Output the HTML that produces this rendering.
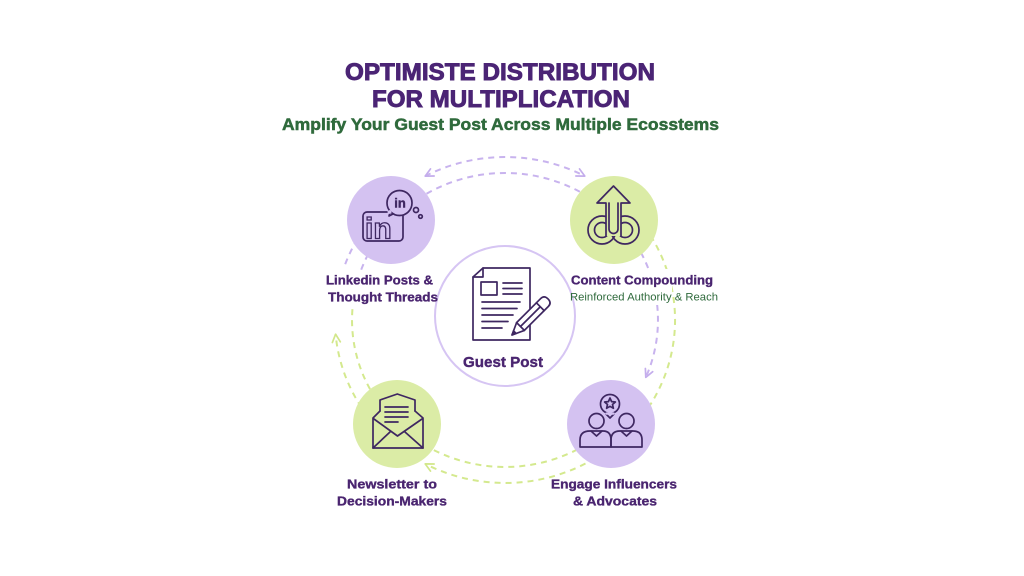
<!DOCTYPE html>
<html>
<head>
<meta charset="utf-8">
<style>
html,body{margin:0;padding:0;background:#fff;}
svg{display:block;}
text{font-family:"Liberation Sans",Arial,sans-serif;}
.lbl{font-weight:bold;font-size:13px;fill:#4a2570;stroke:#4a2570;stroke-width:0.35px;}
.ic{fill:none;stroke:#3e2761;stroke-width:1.7;stroke-linecap:round;stroke-linejoin:round;}
</style>
</head>
<body>
<svg width="1024" height="576" viewBox="0 0 1024 576" xmlns="http://www.w3.org/2000/svg">
<defs>
  <marker id="ap" viewBox="0 0 10 10" refX="9" refY="5" markerWidth="10" markerHeight="10" markerUnits="userSpaceOnUse" orient="auto-start-reverse">
    <path d="M1,1 L9,5 L1,9" fill="none" stroke="#c4adec" stroke-width="1.7" stroke-linecap="round" stroke-linejoin="round"/>
  </marker>
  <marker id="ag" viewBox="0 0 10 10" refX="9" refY="5" markerWidth="10" markerHeight="10" markerUnits="userSpaceOnUse" orient="auto-start-reverse">
    <path d="M1,1 L9,5 L1,9" fill="none" stroke="#d2e78a" stroke-width="1.7" stroke-linecap="round" stroke-linejoin="round"/>
  </marker>
</defs>
<rect width="1024" height="576" fill="#fff"/>

<!-- Title -->
<text x="500" y="80" text-anchor="middle" font-size="24" font-weight="bold" fill="#4b2475" stroke="#4b2475" stroke-width="0.9" textLength="310" lengthAdjust="spacingAndGlyphs">OPTIMISTE DISTRIBUTION</text>
<text x="501" y="107" text-anchor="middle" font-size="24" font-weight="bold" fill="#4b2475" stroke="#4b2475" stroke-width="0.9" textLength="258" lengthAdjust="spacingAndGlyphs">FOR MULTIPLICATION</text>
<text x="500.5" y="130" text-anchor="middle" font-size="16.5" font-weight="bold" fill="#2f6a3c" stroke="#2f6a3c" stroke-width="0.5" textLength="437" lengthAdjust="spacingAndGlyphs">Amplify Your Guest Post Across Multiple Ecosstems</text>

<!-- Dashed arcs -->
<g fill="none" stroke-width="2" stroke-dasharray="6 5">
  <!-- top -->
  <path d="M425.2,176.1 A170,163 0 0 1 584.8,176.1" stroke="#c8b3ee" marker-start="url(#ap)" marker-end="url(#ap)"/>
  <path d="M417.2,199.6 A153,147 0 0 1 592.8,199.6" stroke="#c8b3ee"/>
  <!-- right -->
  <path d="M622.2,225.5 A153,147 0 0 1 645.8,377.4" stroke="#c8b3ee" marker-end="url(#ap)"/>
  <path d="M644.3,226.5 A170,163 0 0 1 644.3,413.5" stroke="#d4e98e"/>
  <!-- bottom -->
  <path d="M595.1,458.2 A170,163 0 0 1 425.2,463.9" stroke="#d4e98e" marker-end="url(#ag)"/>
  <path d="M613.2,423.9 A153,147 0 0 1 396.8,423.9" stroke="#d4e98e"/>
  <!-- left -->
  <path d="M374.8,424.8 A170,163 0 0 1 335.6,334.2" stroke="#d4e98e" marker-end="url(#ag)"/>
  <path d="M396.8,423.9 A153,147 0 0 1 352.6,307.2" stroke="#d4e98e"/>
  <path d="M345.2,264.2 A170,163 0 0 1 365.7,226.5" stroke="#c8b3ee"/>
  <path d="M361.2,269.7 A153,147 0 0 1 379.7,235.7" stroke="#c8b3ee"/>
</g>
<!-- gap behind Content label -->
<rect x="636" y="269" width="36" height="36" fill="#fff"/>

<!-- Center circle -->
<circle cx="505" cy="316" r="70" fill="#fff" stroke="#d6c5f3" stroke-width="2"/>

<!-- Node circles -->
<circle cx="391" cy="220" r="44" fill="#d4c2f1"/>
<circle cx="614" cy="220" r="44" fill="#dbeca6"/>
<circle cx="397" cy="424" r="44" fill="#dbeca6"/>
<circle cx="611" cy="424" r="44" fill="#d4c2f1"/>

<!-- LinkedIn icon -->
<rect x="363" y="212" width="40" height="29" rx="4" class="ic"/>
<text x="365" y="238.5" font-size="30" font-weight="bold" fill="#d4c2f1" stroke="#3e2761" stroke-width="1.3">in</text>
<path d="M393,214 L389,216 L390,212" fill="#d4c2f1" stroke="#3e2761" stroke-width="1.6" stroke-linejoin="round"/>
<circle cx="399.5" cy="203" r="12.5" fill="#d4c2f1" stroke="#3e2761" stroke-width="1.7"/>
<path d="M388,213 L391,211" stroke="#d4c2f1" stroke-width="3"/>
<text x="400" y="207.5" text-anchor="middle" font-size="13" font-weight="bold" fill="#3e2761" stroke="#3e2761" stroke-width="0.4">in</text>
<circle cx="416" cy="210" r="2.5" class="ic" stroke-width="1.3"/>
<circle cx="420.5" cy="216.5" r="1.8" class="ic" stroke-width="1.2"/>

<!-- Content compounding icon -->
<g class="ic">
  <circle cx="602" cy="230" r="14"/>
  <circle cx="602" cy="230" r="7.5"/>
  <circle cx="625" cy="230" r="14"/>
  <circle cx="625" cy="230" r="7.5"/>
  <path d="M606,236 V203 H597 L613.5,186 L630,203 H621 V236" fill="#dbeca6"/>
  <path d="M609,203 V229 A4.5,4.5 0 0 0 618,229 V203"/>
</g>

<!-- Guest post icon -->
<g class="ic">
  <path d="M483,268 H530 V340 H473 V277 Z"/>
  <path d="M483,268 V277 H473"/>
  <rect x="481" y="282" width="16" height="13"/>
  <path d="M503,283 H522 M503,288.5 H522 M503,294 H522"/>
  <path d="M482,302 H520 M482,308.5 H517 M482,315 H513 M482,321.5 H508 M482,328 H502"/>
  <g transform="translate(512,335) rotate(-45)">
    <path d="M0,0 L12,-5.5 H46 Q51,-5.5 51,0 Q51,5.5 46,5.5 H12 Z" fill="#fff"/>
    <path d="M12,-5.5 V5.5 M40,-5.5 V5.5 M12,0 H40"/>
    <path d="M0,0 L4,-1.8 V1.8 Z" fill="#3e2761"/>
  </g>
</g>
<text x="503" y="367" text-anchor="middle" font-size="15" font-weight="bold" fill="#4a2570" stroke="#4a2570" stroke-width="0.4" textLength="80" lengthAdjust="spacingAndGlyphs">Guest Post</text>

<!-- Newsletter icon -->
<g class="ic">
  <path d="M380,411 V400 L397.3,394 L415,400 V411"/>
  <path d="M385,407 H408 M385,412 H408 M385,417 H408 M385,422 H398"/>
  <path d="M380,411 L373,418 V448 H423 V418 L415,411"/>
  <path d="M374,419 L397.5,436 L422,419"/>
  <path d="M373,448 L390,432 M423,448 L405,432"/>
</g>

<!-- Engage icon -->
<g class="ic">
  <path d="M606,414 L610,418 L614,414" fill="#d4c2f1"/>
  <circle cx="610" cy="404" r="9.5" fill="#d4c2f1"/>
  <path d="M606.5,413.6 L613.5,413.6" stroke="#d4c2f1" stroke-width="2.4"/>
  <path d="M610,398 L611.6,401.6 L615.4,402 L612.5,404.5 L613.4,408.3 L610,406.3 L606.6,408.3 L607.5,404.5 L604.6,402 L608.4,401.6 Z"/>
  <circle cx="596.5" cy="421" r="7.5"/>
  <path d="M580,447 V440 Q580,431 590,431 H603 Q611,431 611,440 V447 Z"/>
  <path d="M591,431 L596.5,436 L602,431"/>
  <circle cx="626.5" cy="421" r="7.5"/>
  <path d="M611,447 V440 Q611,431 620,431 H633 Q642,431 642,440 V447 Z"/>
  <path d="M621,431 L626.5,436 L632,431"/>
</g>

<!-- Labels -->
<text class="lbl" x="379.5" y="284.5" text-anchor="middle" textLength="107" lengthAdjust="spacingAndGlyphs">Linkedin Posts &amp;</text>
<text class="lbl" x="383" y="301.5" text-anchor="middle" textLength="110" lengthAdjust="spacingAndGlyphs">Thought Threads</text>

<text class="lbl" x="642" y="284.5" text-anchor="middle" textLength="142" lengthAdjust="spacingAndGlyphs">Content Compounding</text>
<text x="644" y="300.5" text-anchor="middle" font-size="11" fill="#2f6a3c" textLength="148" lengthAdjust="spacingAndGlyphs">Reinforced Authority &amp; Reach</text>

<text class="lbl" x="392" y="488.5" text-anchor="middle" textLength="90" lengthAdjust="spacingAndGlyphs">Newsletter to</text>
<text class="lbl" x="392" y="505.5" text-anchor="middle" textLength="110" lengthAdjust="spacingAndGlyphs">Decision-Makers</text>

<text class="lbl" x="614" y="488.5" text-anchor="middle" textLength="126" lengthAdjust="spacingAndGlyphs">Engage Influencers</text>
<text class="lbl" x="615" y="505.5" text-anchor="middle" textLength="84" lengthAdjust="spacingAndGlyphs">&amp; Advocates</text>
</svg>
</body>
</html>
